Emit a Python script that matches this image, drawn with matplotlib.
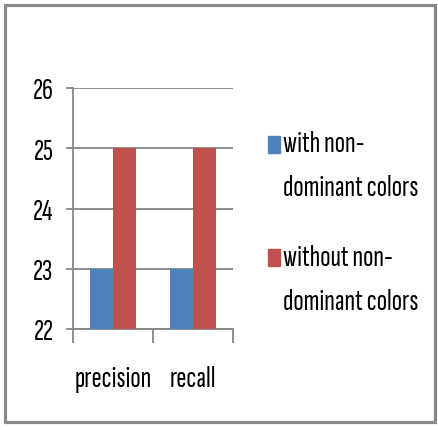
import matplotlib
matplotlib.use("Agg")
from matplotlib import pyplot as plt
from matplotlib.patches import Rectangle
import numpy as np

categories = ["precision", "recall"]
series_names = ["with non-\ndominant colors", "without non-\ndominant colors"]
with_vals = [23, 23]
without_vals = [25, 25]
colors = ["#4F81BD", "#C0504D"]

plt.rcParams['font.family'] = ['Sofia Sans Extra Condensed', 'DejaVu Sans']

W, H = 439, 431
fig = plt.figure(figsize=(W / 100, H / 100), dpi=100)
ax = fig.add_axes([73 / W, 1 - 330 / H, 160 / W, 241 / H])

x = np.arange(len(categories))
w = 1 / 3.5
ax.bar(x - w / 2, with_vals, width=w, color=colors[0], zorder=3)
ax.bar(x + w / 2, without_vals, width=w, color=colors[1], zorder=3)

ax.set_xlim(-0.5, len(categories) - 0.5)
ax.set_ylim(22, 26)
ax.set_yticks([22, 23, 24, 25, 26])
ax.yaxis.grid(True, color="#868686", linewidth=1.3, zorder=0)
ax.set_axisbelow(True)

fs = 22
ax.set_xticks(x)
ax.set_xticklabels(categories, fontsize=fs)
ax.tick_params(axis='x', length=0, pad=26)
ax.set_xticks(np.arange(-0.5, len(categories)), minor=True)
ax.tick_params(axis='x', which='minor', length=10, width=1.3, color="#868686", direction='out')
ax.tick_params(axis='y', length=5, width=1.3, color="#868686", labelsize=fs, pad=9)

for s in ["top", "right"]:
    ax.spines[s].set_visible(False)
ax.spines["left"].set_color("#868686")
ax.spines["left"].set_linewidth(1.3)
ax.spines["bottom"].set_color("#868686")
ax.spines["bottom"].set_linewidth(1.3)

# legend, drawn by hand so the square sits beside the first line
tops = [145, 258]
for name, col, yc in zip(series_names, colors, tops):
    fig.patches.append(Rectangle((268 / W, 1 - (yc + 8.5) / H), 12 / W, 17 / H,
                                 transform=fig.transFigure, color=col))
    for i, line in enumerate(name.split("\n")):
        fig.text(283 / W, 1 - (yc + i * 44) / H, line, fontsize=fs, va='center', ha='left')

# outer chart border
fig.patches.append(Rectangle((5 / W, 1 - 423 / H), 430 / W, 417 / H, transform=fig.transFigure,
                             fill=False, edgecolor="#898989", linewidth=2.3))

fig.savefig("out.png", dpi=100)
